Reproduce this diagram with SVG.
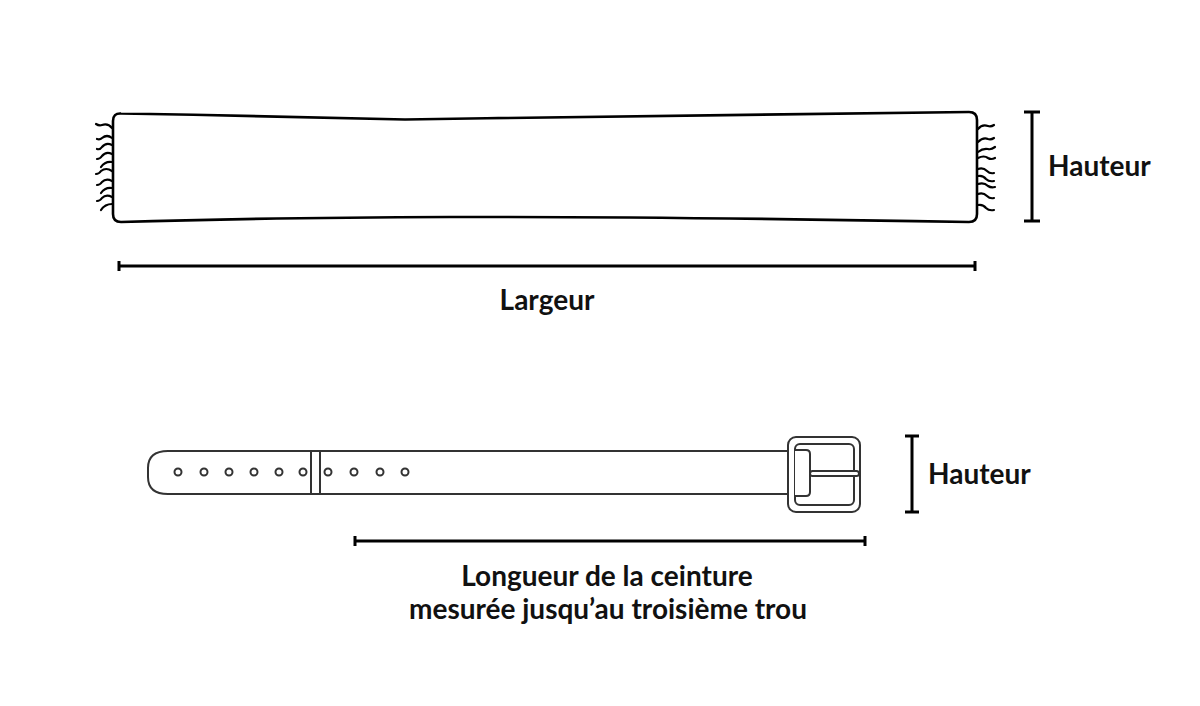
<svg xmlns="http://www.w3.org/2000/svg" width="1200" height="706" viewBox="0 0 1200 706">
<style>
.scarf{fill:#fff;stroke:#000;stroke-width:2.6;stroke-linejoin:round}
.fr{fill:none;stroke:#000;stroke-width:2.2;stroke-linecap:round}
.belt{fill:#fff;stroke:#333;stroke-width:2;stroke-linejoin:round}
.hole{fill:#fff;stroke:#333;stroke-width:2}
.dim{fill:none;stroke:#000;stroke-width:3}
.lbl{font-family:Lato,"Liberation Sans",sans-serif;font-weight:700;font-size:28px;fill:#111}
</style>
<rect width="1200" height="706" fill="#fff"/>
<g id="scarf">
<path class="scarf" d="M121,113.5 C220,115 330,117.5 405,119.5 C600,116.5 800,112.5 969,112 Q977,112 977,120 L977,214 Q977,222 969,222 C800,219 650,216.5 450,217 C300,217.5 200,219.5 121,222 Q113,222 113,214 L113,121 Q113,113 121,113.5 Z"/>
<g class="fr">
<path d="M112,128 q-4,-5 -10,-3 q-3,1 -6,-1"/>
<path d="M112,138 q-5,-4 -10,0 q-2,2 -5,1"/>
<path d="M112,145 q-6,-3 -10,2 q-2,3 -5,2"/>
<path d="M112,154 q-6,-3 -10,2 q-2,3 -5,3"/>
<path d="M112,162 q-7,-1 -11,5"/>
<path d="M112,171 q-6,-4 -11,0 q-2,3 -5,3"/>
<path d="M112,181 q-6,-3 -10,1 q-2,3 -5,3"/>
<path d="M112,188 q-7,-1 -11,5"/>
<path d="M112,197 q-6,-3 -10,1 q-2,3 -5,3"/>
<path d="M112,204 q-7,0 -11,6"/>
</g>
<g class="fr">
<path d="M978,129 q4,-5 10,-3 q3,1 6,-1"/>
<path d="M978,142 q5,-5 10,-3 q3,1 6,-1"/>
<path d="M978,152 q5,-4 10,-3 q3,1 7,-2"/>
<path d="M978,158 q6,-3 10,0 q3,2 7,0"/>
<path d="M978,169 q5,-2 9,2 q3,3 7,2"/>
<path d="M978,176 q5,-1 8,3 q3,3 8,2"/>
<path d="M978,184 q6,-2 10,2 q3,2 7,1"/>
<path d="M978,194 q5,-2 9,2 q3,3 7,2"/>
<path d="M978,205 q5,-1 8,3 q3,3 8,2"/>
</g>
</g>
<g id="scarf-height">
<path class="dim" d="M1032,112 V221 M1024,112 H1040 M1024,221 H1040"/>
<text class="lbl" x="1048" y="176">Hauteur</text>
</g>
<g id="scarf-width">
<path class="dim" d="M119,266 H975 M119,261 V271 M975,261 V271"/>
<text class="lbl" x="547" y="310" text-anchor="middle">Largeur</text>
</g>
<g id="belt">
<path class="belt" d="M788,451 H168 Q148,451 148,468 V477 Q148,494 168,494 H788"/>
<path class="belt" d="M311,451 V494 M320,451 V494"/>
<g>
<circle class="hole" cx="178" cy="472" r="3.5"/>
<circle class="hole" cx="204" cy="472" r="3.5"/>
<circle class="hole" cx="229" cy="472" r="3.5"/>
<circle class="hole" cx="254" cy="472" r="3.5"/>
<circle class="hole" cx="279" cy="472" r="3.5"/>
<circle class="hole" cx="303" cy="472" r="3.5"/>
<circle class="hole" cx="328" cy="472" r="3.5"/>
<circle class="hole" cx="354" cy="472" r="3.5"/>
<circle class="hole" cx="380" cy="472" r="3.5"/>
<circle class="hole" cx="405" cy="472" r="3.5"/>
</g>
<rect class="belt" x="788" y="437" width="72" height="75" rx="8"/>
<rect class="belt" x="795" y="444" width="59" height="61" rx="5"/>
<path class="belt" d="M795,450 H806 Q810,450 810,454 V492 Q810,496 806,496 H795"/>
<rect class="belt" x="810" y="471" width="49" height="5" rx="2.5"/>
</g>
<g id="belt-height">
<path class="dim" d="M912,436 V512 M905,436 H919 M905,512 H919"/>
<text class="lbl" x="928" y="484">Hauteur</text>
</g>
<g id="belt-length">
<path class="dim" d="M355,541 H865 M355,536 V546 M865,536 V546"/>
<text class="lbl" x="607" y="586" text-anchor="middle">Longueur de la ceinture</text>
<text class="lbl" x="608" y="619" text-anchor="middle">mesurée jusqu’au troisième trou</text>
</g>
</svg>
